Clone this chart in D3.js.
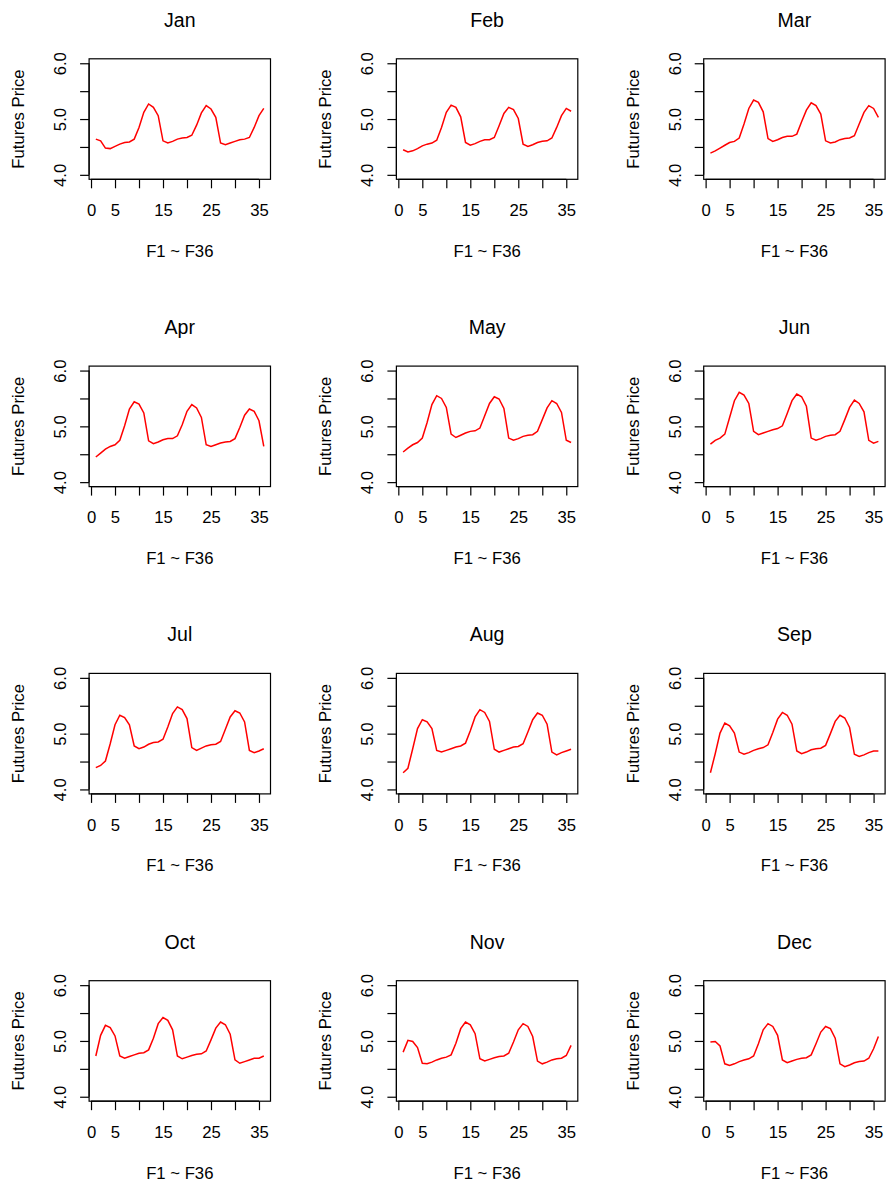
<!DOCTYPE html>
<html>
<head>
<meta charset="utf-8">
<script src="https://cdn.jsdelivr.net/npm/d3@7"></script>
<style>
body { margin: 0; background: #fff; }
text { font-family: "Liberation Sans", Arial, sans-serif; fill: #000; }
</style>
</head>
<body>
<div id="chart"></div>
<script>
// monthly futures curves, F1 ~ F36
var months = ["Jan", "Feb", "Mar", "Apr", "May", "Jun", "Jul", "Aug", "Sep", "Oct", "Nov", "Dec"];

var jan = [4.64,4.61,4.48,4.47,4.51,4.55,4.58,4.59,4.64,4.85,5.12,5.27,5.21,5.06,4.61,4.57,4.60,4.64,4.66,4.67,4.71,4.89,5.11,5.24,5.18,5.03,4.57,4.54,4.57,4.60,4.63,4.64,4.67,4.85,5.06,5.19];
var feb = [4.45,4.41,4.43,4.47,4.52,4.55,4.57,4.62,4.85,5.12,5.25,5.21,5.04,4.58,4.53,4.56,4.60,4.63,4.63,4.67,4.88,5.10,5.21,5.17,5.01,4.55,4.51,4.54,4.58,4.60,4.61,4.66,4.85,5.06,5.19,5.14];
var mar = [4.39,4.43,4.48,4.53,4.58,4.60,4.66,4.91,5.19,5.34,5.30,5.13,4.65,4.60,4.63,4.67,4.69,4.69,4.73,4.95,5.16,5.29,5.24,5.09,4.61,4.57,4.59,4.63,4.65,4.66,4.70,4.91,5.12,5.24,5.19,5.03];
var apr = [4.45,4.52,4.59,4.64,4.67,4.75,5.01,5.31,5.44,5.40,5.24,4.74,4.69,4.72,4.76,4.78,4.78,4.83,5.03,5.27,5.39,5.33,5.16,4.67,4.64,4.67,4.70,4.72,4.73,4.78,4.98,5.20,5.31,5.27,5.10,4.64];
var may = [4.54,4.61,4.67,4.71,4.79,5.07,5.39,5.55,5.50,5.34,4.86,4.80,4.84,4.88,4.91,4.92,4.97,5.19,5.41,5.53,5.49,5.32,4.79,4.75,4.78,4.82,4.84,4.85,4.91,5.12,5.33,5.46,5.41,5.25,4.75,4.71];
var jun = [4.68,4.75,4.79,4.86,5.16,5.46,5.61,5.56,5.41,4.91,4.85,4.88,4.91,4.94,4.96,5.01,5.23,5.46,5.58,5.53,5.36,4.79,4.75,4.78,4.82,4.84,4.85,4.91,5.12,5.34,5.47,5.41,5.26,4.75,4.70,4.73];
var jul = [4.39,4.43,4.51,4.82,5.16,5.33,5.29,5.16,4.78,4.73,4.76,4.81,4.84,4.85,4.90,5.12,5.36,5.48,5.43,5.27,4.75,4.70,4.74,4.78,4.80,4.81,4.86,5.08,5.30,5.41,5.37,5.21,4.70,4.66,4.69,4.73];
var aug = [4.30,4.38,4.73,5.09,5.25,5.21,5.09,4.70,4.67,4.70,4.73,4.76,4.78,4.83,5.05,5.30,5.43,5.38,5.22,4.72,4.67,4.70,4.73,4.76,4.77,4.82,5.03,5.25,5.37,5.33,5.17,4.67,4.62,4.66,4.69,4.72];
var sep = [4.30,4.64,5.01,5.19,5.14,5.01,4.67,4.63,4.66,4.70,4.73,4.75,4.80,5.02,5.26,5.38,5.33,5.17,4.69,4.64,4.67,4.71,4.73,4.74,4.79,5.00,5.22,5.33,5.28,5.11,4.63,4.59,4.62,4.66,4.69,4.69];
var oct = [4.73,5.10,5.28,5.24,5.09,4.73,4.69,4.72,4.75,4.78,4.79,4.84,5.05,5.31,5.42,5.37,5.20,4.73,4.68,4.71,4.74,4.76,4.77,4.82,5.02,5.23,5.34,5.29,5.12,4.66,4.60,4.63,4.66,4.69,4.69,4.73];
var nov = [4.80,5.01,4.99,4.88,4.60,4.59,4.62,4.66,4.69,4.71,4.75,4.96,5.22,5.34,5.29,5.13,4.68,4.64,4.67,4.70,4.72,4.73,4.78,4.98,5.20,5.31,5.26,5.08,4.64,4.59,4.62,4.66,4.68,4.69,4.74,4.92];
var dec = [4.98,4.99,4.91,4.59,4.56,4.59,4.63,4.66,4.68,4.73,4.95,5.20,5.31,5.26,5.10,4.66,4.61,4.64,4.67,4.69,4.70,4.75,4.95,5.16,5.26,5.22,5.05,4.59,4.54,4.57,4.61,4.63,4.64,4.69,4.86,5.08];

var series = [jan, feb, mar, apr, may, jun, jul, aug, sep, oct, nov, dec];

var xTicks = [0, 5, 10, 15, 20, 25, 30, 35];
var xTickLabels = ["0", "5", "", "15", "", "25", "", "35"];
var yTicks = [4, 4.5, 5, 5.5, 6];
var yTickLabels = ["4.0", "", "5.0", "", "6.0"];

var width = 886, height = 1187;
var step = 307.3;
var boxLeft = 89.1, boxW = 181.4, boxTop = 58.8, boxH = 120.5;
var fontSize = "16.7px";

var svg = d3.select("#chart").append("svg")
  .attr("width", width)
  .attr("height", height);

series.forEach(function(vals, k) {
  var col = k % 3, row = Math.floor(k / 3);
  var left = boxLeft + col * step, top = boxTop + row * step;

  var x = d3.scaleLinear().domain([-0.4, 37.4]).range([0, boxW]);
  var y = d3.scaleLinear().domain([3.92, 6.08]).range([boxH, 0]);

  var g = svg.append("g").attr("transform", "translate(" + left + "," + top + ")");

  // x axis
  var gx = g.append("g")
    .attr("transform", "translate(0," + boxH + ")")
    .call(d3.axisBottom(x).tickValues(xTicks).tickSize(9).tickPadding(0)
      .tickFormat(function(d, i) { return xTickLabels[i]; }));
  gx.select(".domain").remove();
  gx.selectAll(".tick line").attr("stroke", "#000").attr("stroke-width", 1.2);
  gx.selectAll(".tick text").attr("y", 31).attr("dy", "0.35em")
    .style("font-size", fontSize).style("font-family", "Liberation Sans, Arial, sans-serif");
  gx.append("line")
    .attr("x1", x(xTicks[0])).attr("x2", x(xTicks[xTicks.length - 1]))
    .attr("stroke", "#000").attr("stroke-width", 1.2);

  // y axis
  var gy = g.append("g")
    .call(d3.axisLeft(y).tickValues(yTicks).tickSize(9).tickPadding(0)
      .tickFormat(function(d, i) { return yTickLabels[i]; }));
  gy.select(".domain").remove();
  gy.selectAll(".tick line").attr("stroke", "#000").attr("stroke-width", 1.2);
  gy.selectAll(".tick text")
    .attr("x", null).attr("dy", "0.35em")
    .attr("transform", "translate(-29,0) rotate(-90)")
    .attr("text-anchor", "middle")
    .style("font-size", fontSize).style("font-family", "Liberation Sans, Arial, sans-serif");
  gy.append("line")
    .attr("y1", y(yTicks[0])).attr("y2", y(yTicks[yTicks.length - 1]))
    .attr("stroke", "#000").attr("stroke-width", 1.2);

  // box
  g.append("rect")
    .attr("width", boxW).attr("height", boxH)
    .attr("fill", "none").attr("stroke", "#000").attr("stroke-width", 1.2);

  // line
  var line = d3.line()
    .x(function(d, i) { return x(i + 1); })
    .y(function(d) { return y(d); });
  g.append("path")
    .datum(vals)
    .attr("d", line)
    .attr("fill", "none")
    .attr("stroke", "#ff0000")
    .attr("stroke-width", 1.5);

  // titles
  g.append("text")
    .attr("x", boxW / 2).attr("y", -39).attr("dy", "0.35em")
    .attr("text-anchor", "middle")
    .style("font-size", "19.5px")
    .text(months[k]);
  g.append("text")
    .attr("x", boxW / 2).attr("y", boxH + 71.6).attr("dy", "0.35em")
    .attr("text-anchor", "middle")
    .style("font-size", fontSize)
    .text("F1 ~ F36");
  g.append("text")
    .attr("transform", "translate(-71," + (boxH / 2) + ") rotate(-90)")
    .attr("dy", "0.35em")
    .attr("text-anchor", "middle")
    .style("font-size", fontSize)
    .text("Futures Price");
});
</script>
</body>
</html>
